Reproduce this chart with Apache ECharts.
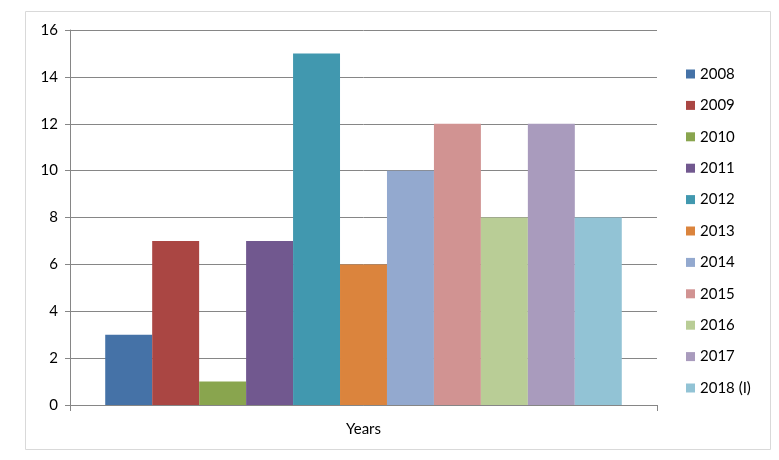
<!DOCTYPE html>
<html>
<head>
<meta charset="utf-8">
<script src="https://cdn.jsdelivr.net/npm/echarts@6/dist/echarts.min.js"></script>
<style>
  html, body { margin: 0; padding: 0; background: #fff; }
  #chart { width: 779px; height: 460px; }
</style>
</head>
<body>
<div id="chart"></div>
<script>
const categories = ["Years"];
const seriesNames = ["2008", "2009", "2010", "2011", "2012", "2013", "2014", "2015", "2016", "2017", "2018 (I)"];
const seriesValues = [3, 7, 1, 7, 15, 6, 10, 12, 8, 12, 8];
const colors = ["#4572A7", "#AA4643", "#89A54E", "#71588F", "#4198AF", "#DB843D",
  "#93A9CF", "#D19392", "#B9CD96", "#A99BBD", "#92C3D5"];

(function yearsChart() {
  var dom = document.getElementById("chart");
  var myChart = echarts.init(dom, null, { renderer: "canvas" });
  var font = "Lato, 'Open Sans', sans-serif";

  var series = seriesNames.map(function (name, i) {
    return {
      name: name,
      type: "bar",
      data: [seriesValues[i]],
      barGap: "0%",
      barCategoryGap: "12%",
      itemStyle: { color: colors[i] },
    };
  });

  var option = {
    animation: false,
    color: colors,
    graphic: [
      {
        type: "rect",
        shape: { x: 25.5, y: 11.5, width: 745, height: 438 },
        style: { fill: "none", stroke: "#d9d9d9", lineWidth: 1 },
        silent: true,
      },
    ],
    legend: {
      orient: "vertical",
      left: 681,
      top: 61,
      itemWidth: 9,
      itemHeight: 9,
      itemGap: 15.4,
      icon: "rect",
      textStyle: { fontFamily: font, fontSize: 15, lineHeight: 16, color: "#000" },
      data: seriesNames,
    },
    grid: { left: 70, right: 122, top: 30, bottom: 55 },
    xAxis: {
      type: "category",
      data: categories,
      axisLine: { lineStyle: { color: "#868686" } },
      axisTick: { show: true, length: 6, lineStyle: { color: "#868686" } },
      axisLabel: { fontFamily: font, fontSize: 15, color: "#000", margin: 17 },
    },
    yAxis: {
      type: "value",
      min: 0,
      max: 16,
      interval: 2,
      axisLine: { show: true, lineStyle: { color: "#868686" } },
      axisTick: { show: true, length: 5, lineStyle: { color: "#868686" } },
      splitLine: { lineStyle: { color: "#868686" } },
      axisLabel: { fontFamily: font, fontSize: 15, color: "#000", margin: 12 },
    },
    series: series,
  };

  option && myChart.setOption(option);
})();
</script>
</body>
</html>
